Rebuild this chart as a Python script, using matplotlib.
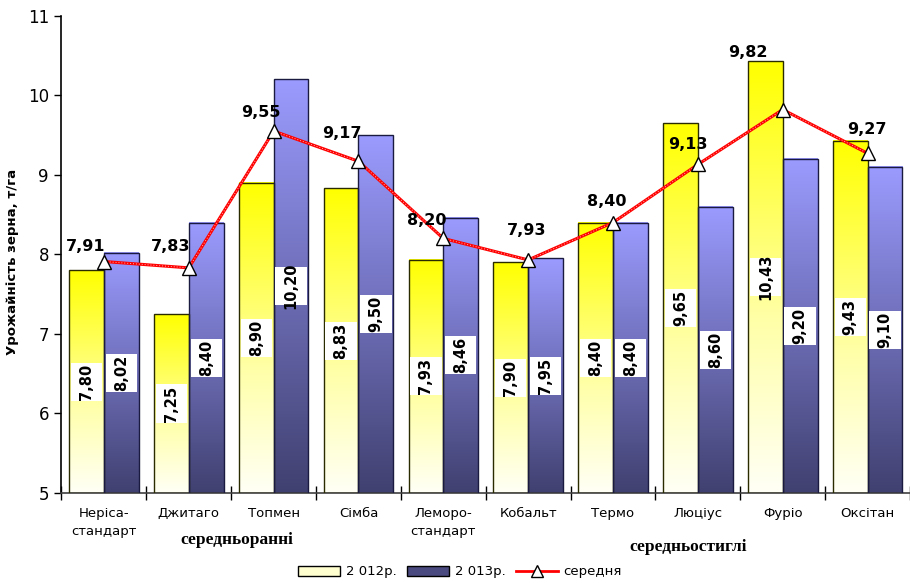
import matplotlib
matplotlib.use("Agg")
import matplotlib.pyplot as plt
import numpy as np
from matplotlib.colors import LinearSegmentedColormap
from matplotlib.patches import Patch, Rectangle
from matplotlib.lines import Line2D

categories = ["Неріса-\nстандарт", "Джитаго", "Топмен", "Сімба", "Леморо-\nстандарт",
              "Кобальт", "Термо", "Люціус", "Фуріо", "Оксітан"]
y2012 = [7.80, 7.25, 8.90, 8.83, 7.93, 7.90, 8.40, 9.65, 10.43, 9.43]
y2013 = [8.02, 8.40, 10.20, 9.50, 8.46, 7.95, 8.40, 8.60, 9.20, 9.10]
mean = [7.91, 7.83, 9.55, 9.17, 8.20, 7.93, 8.40, 9.13, 9.82, 9.27]
series_names = ["2 012р.", "2 013р.", "середня"]
group_labels = ["середньоранні", "середньостиглі"]
y_ticks = [5, 6, 7, 8, 9, 10, 11]

# label offsets for mean labels (pixels)
mean_offsets = [(-18, 15), (-18, 21), (-13, 19), (-17, 28), (-17, 18),
                (-2, 29), (-6, 21), (-10, 20), (-35, 57), (-1, 24)]

def fmt(v):
    return f"{v:.2f}".replace(".", ",")

W, H = 910, 583
fig = plt.figure(figsize=(W / 100, H / 100), dpi=100)
ax = fig.add_axes([61.5 / W, 90 / H, (W - 61.5) / W, (493 - 15.7) / H])

x = np.arange(len(categories))
bw = 0.41
ymin = 5

cmap_y = LinearSegmentedColormap.from_list("yel", [(0, "#fffff6"), (0.4, "#ffffa8"), (1, "#ffff00")])
cmap_b = LinearSegmentedColormap.from_list("blu", [(0, "#404070"), (1, "#9b9bff")])

b1 = ax.bar(x - bw / 2, np.array(y2012) - ymin, bw, bottom=ymin, facecolor="none",
            edgecolor="#2b2b00", linewidth=1.0, zorder=3)
b2 = ax.bar(x + bw / 2, np.array(y2013) - ymin, bw, bottom=ymin, facecolor="none",
            edgecolor="#1a1a40", linewidth=1.0, zorder=3)

grad = np.linspace(0, 1, 256).reshape(-1, 1)
for bars, cm in ((b1, cmap_y), (b2, cmap_b)):
    for p in bars:
        x0, w, y0, h = p.get_x(), p.get_width(), p.get_y(), p.get_height()
        ax.imshow(grad, cmap=cm, origin="lower", aspect="auto",
                  extent=(x0, x0 + w, y0, y0 + h), zorder=2, interpolation="bilinear")

# value labels inside bars
upp = 1 / 79.5  # data units per pixel (y)
for bars, vals in ((b1, y2012), (b2, y2013)):
    for p, v in zip(bars, vals):
        cx = p.get_x() + p.get_width() / 2
        cy = p.get_y() + p.get_height() / 2
        bwid = p.get_width() * 0.9
        bh = 38 * upp
        ax.add_patch(Rectangle((cx - bwid / 2, cy - bh / 2), bwid, bh, facecolor="white",
                               edgecolor="none", zorder=4))
        ax.text(cx, cy, fmt(v), rotation=90, ha="center", va="center", fontsize=10.5,
                fontweight="bold", zorder=5)

# mean line
ax.plot(x, mean, color="#ff0000", lw=2.2, zorder=6, solid_capstyle="butt")
ax.plot(x, mean, color="#ffb0b0", lw=0.7, ls=(0, (1, 2)), zorder=6)
ax.plot(x, mean, ls="none", marker="^", markersize=10, markerfacecolor="white",
        markeredgecolor="black", markeredgewidth=1.0, zorder=7)
for xi, m, off in zip(x, mean, mean_offsets):
    ax.annotate(fmt(m), (xi, m), xytext=off, textcoords="offset pixels",
                ha="center", va="center", fontsize=11.5, fontweight="bold", zorder=8)

ax.set_ylim(5, 11)
ax.set_xlim(-0.5, -0.5 + (W - 61.5) / 85.5)
ax.set_yticks(y_ticks)
ax.set_yticklabels([str(t) for t in y_ticks], fontsize=12)
ax.tick_params(axis="y", direction="out", length=5, width=1, pad=4)
ax.set_xticks(np.arange(len(categories) + 1) - 0.5)
ax.set_xticklabels([])
ax.tick_params(axis="x", which="major", direction="inout", length=10, width=1)
ax.set_xticks(x, minor=True)
ax.set_xticklabels(categories, minor=True, fontsize=9.5, linespacing=1.5)
ax.tick_params(axis="x", which="minor", length=0, pad=10)
for s in ("top", "right"):
    ax.spines[s].set_visible(False)
ax.spines["left"].set_linewidth(1.2)
ax.spines["bottom"].set_linewidth(1.2)
ax.spines["bottom"].set_color("#404040")

ax.set_ylabel("Урожайність зерна, т/га", fontsize=9.5, fontweight="bold")
ax.yaxis.set_label_coords(-42 / (W - 61.5), 0.484)

fig.text(237 / W, 1 - 540 / H, group_labels[0], family="Liberation Serif", fontweight="bold",
         fontsize=12.5, ha="center", va="center")
fig.text(688 / W, 1 - 547 / H, group_labels[1], family="Liberation Serif", fontweight="bold",
         fontsize=12.5, ha="center", va="center")

handles = [Patch(facecolor="#ffffd0", edgecolor="black"),
           Patch(facecolor="#4a4a80", edgecolor="black"),
           Line2D([], [], color="red", lw=2, marker="^", markersize=9,
                  markerfacecolor="white", markeredgecolor="black")]
fig.legend(handles, series_names, loc="center", bbox_to_anchor=(460 / W, 1 - 572 / H),
           ncol=3, frameon=False, fontsize=9.5, handlelength=3.2, handleheight=0.8,
           columnspacing=0.8, handletextpad=0.4)

fig.savefig("out.png", dpi=100)
